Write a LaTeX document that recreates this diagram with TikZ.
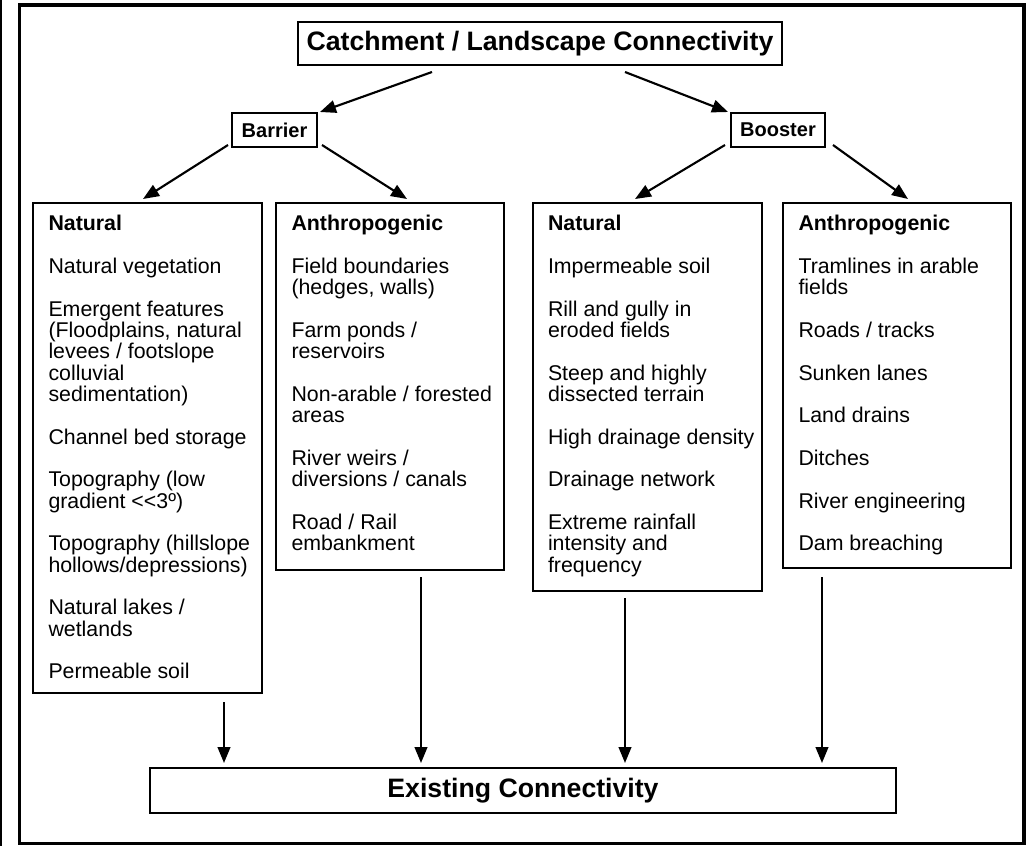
\documentclass[tikz,border=0pt]{standalone}
\usepackage{fontspec}
\setmainfont{Liberation Sans}
\usetikzlibrary{arrows.meta,calc}
\newcommand\pxu{0.75pt}
\begin{document}
\begin{tikzpicture}[x=0.75pt,y=-0.75pt,
  box/.style={draw,line width=1.75pt,inner sep=0pt,outer sep=0pt},
  col/.style={anchor=north west,inner sep=0pt,outer sep=0pt,align=left,font=\fontsize{16}{16}\selectfont},
  bigb/.style={font=\bfseries\fontsize{20}{24}\selectfont},
  midb/.style={font=\bfseries\fontsize{15}{18}\selectfont},
  arr/.style={line width=1.6pt,-{Triangle[length=12pt,width=9.5pt]}}]
\useasboundingbox (0,0) rectangle (1029,846);
\draw[line width=1.5pt] (1,0) -- (1,846);
\draw[line width=2.4pt] (19.5,5) rectangle (1024,843.5);

\node[box,bigb,minimum width=484*\pxu,minimum height=43*\pxu] (title) at (540,43.5) {Catchment / Landscape Connectivity};
\node[box,midb,minimum width=85*\pxu,minimum height=34*\pxu] (barrier) at (274.5,130) {Barrier};
\node[box,midb,minimum width=94*\pxu,minimum height=34*\pxu] (booster) at (778,130) {Booster};

\node[box,minimum width=229*\pxu,minimum height=490*\pxu] (nat1) at (147.5,448) {};
\node[box,minimum width=228*\pxu,minimum height=367*\pxu] (anth1) at (390,386.5) {};
\node[box,minimum width=229*\pxu,minimum height=388*\pxu] (nat2) at (647.5,397) {};
\node[box,minimum width=228*\pxu,minimum height=365*\pxu] (anth2) at (897,385.5) {};

\node[col] (t1) at (48.5,214.7) {\rule{0pt}{12pt}\textbf{Natural}\\[16pt]
Natural vegetation\\[16pt]
Emergent features\\ (Floodplains, natural\\ levees / footslope\\ colluvial\\ sedimentation)\\[16pt]
Channel bed storage\\[16pt]
Topography (low\\ gradient <{}<3º)\\[16pt]
Topography (hillslope\\ hollows/depressions)\\[16pt]
Natural lakes /\\ wetlands\\[16pt]
Permeable soil};

\node[col] (t2) at (291.5,214.7) {\rule{0pt}{12pt}\textbf{Anthropogenic}\\[16pt]
Field boundaries\\ (hedges, walls)\\[16pt]
Farm ponds /\\ reservoirs\\[16pt]
Non-arable / forested\\ areas\\[16pt]
River weirs /\\ diversions / canals\\[16pt]
Road / Rail\\ embankment};

\node[col] (t3) at (548,214.7) {\rule{0pt}{12pt}\textbf{Natural}\\[16pt]
Impermeable soil\\[16pt]
Rill and gully in\\ eroded fields\\[16pt]
Steep and highly\\ dissected terrain\\[16pt]
High drainage density\\[16pt]
Drainage network\\[16pt]
Extreme rainfall\\ intensity and\\ frequency};

\node[col] (t4) at (798.5,214.7) {\rule{0pt}{12pt}\textbf{Anthropogenic}\\[16pt]
Tramlines in arable\\ fields\\[16pt]
Roads / tracks\\[16pt]
Sunken lanes\\[16pt]
Land drains\\[16pt]
Ditches\\[16pt]
River engineering\\[16pt]
Dam breaching};

\node[box,bigb,minimum width=746*\pxu,minimum height=45*\pxu] (exist) at (523,790.5) {Existing Connectivity};

\coordinate (e1) at ($(exist.north west)+(74,-5)$);
\coordinate (e2) at ($(exist.north west)+(271,-5)$);
\coordinate (e3) at ($(exist.north west)+(475,-5)$);
\coordinate (e4) at ($(exist.north west)+(672,-5)$);

\draw[arr] ($(title.south)+(-108,7)$) -- ($(barrier.north east)+(3,-1)$);
\draw[arr] ($(title.south)+(85,7)$) -- ($(booster.north west)+(-3,-1)$);
\draw[arr] ($(barrier.south west)+(-4,-2)$) -- ($(nat1.north)+(-4.5,-4)$);
\draw[arr] ($(barrier.south east)+(5,-2)$) -- ($(anth1.north)+(17,-4)$);
\draw[arr] ($(booster.south west)+(-6,-2)$) -- ($(nat2.north)+(-12.5,-4)$);
\draw[arr] ($(booster.south east)+(8,-2)$) -- ($(anth2.north)+(11,-4)$);

\draw[arr] ($(nat1.south -| e1)+(0,9)$) -- (e1);
\draw[arr] ($(anth1.south -| e2)+(0,7)$) -- (e2);
\draw[arr] ($(nat2.south -| e3)+(0,7)$) -- (e3);
\draw[arr] ($(anth2.south -| e4)+(0,9)$) -- (e4);
\end{tikzpicture}
\end{document}
